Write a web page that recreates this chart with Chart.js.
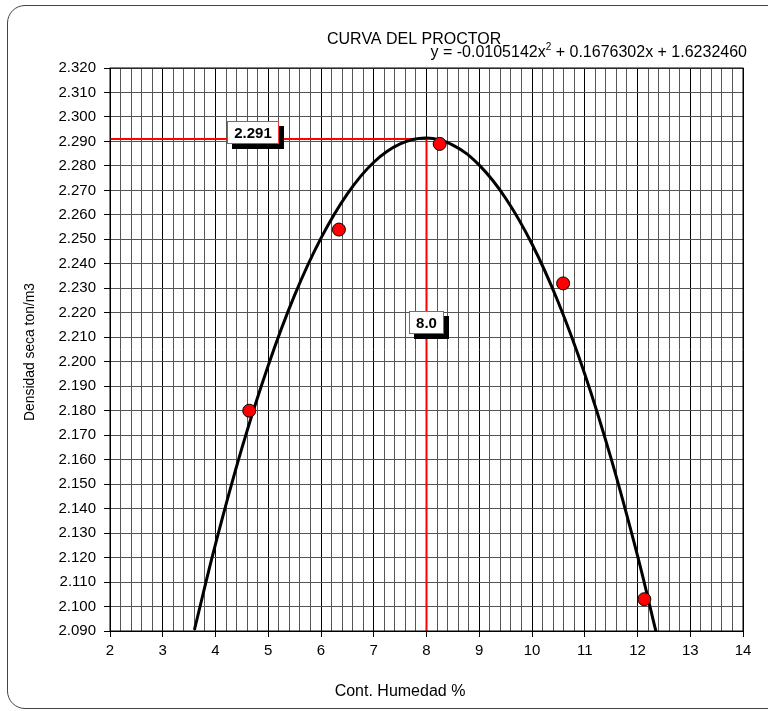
<!DOCTYPE html>
<html>
<head>
<meta charset="utf-8">
<script src="https://cdn.jsdelivr.net/npm/chart.js@4.4.1/dist/chart.umd.min.js"></script>
<style>
  html, body { margin: 0; padding: 0; background: #fff; }
  #wrap { position: relative; width: 768px; height: 711px; overflow: hidden; }
  #frame { position: absolute; left: 7px; top: 5px; width: 820px; height: 704px;
           border: 1px solid #444; border-radius: 18px; box-sizing: border-box; }
  canvas { position: absolute; left: 0; top: 0; }
</style>
</head>
<body>
<div id="wrap">
  <div id="frame"></div>
  <canvas id="proctor" width="768" height="711"></canvas>
</div>
<script>
/* Proctor compaction curve: measured points, fitted parabola and the
   optimum (max dry density / optimum moisture) guide lines. */

const FONT = "'Liberation Sans', Arial, sans-serif";

// measured points (moisture %, dry density ton/m3)
const moisture = [4.64, 6.34, 8.25, 10.59, 12.13];
const density = [2.180, 2.254, 2.289, 2.232, 2.103];

// fitted curve (y = -0.0105142x² + 0.1676302x + 1.6232460)
const curveX = [3.6, 4, 4.5, 5, 5.5, 6, 6.5, 7, 7.5, 8, 8.5, 9, 9.5, 10, 10.5, 11, 11.5, 12, 12.35];
const curveY = [2.0905, 2.1255, 2.1647, 2.1985, 2.2272, 2.2505, 2.2686, 2.2815, 2.2890, 2.2914,
                2.2885, 2.2803, 2.2668, 2.2481, 2.2242, 2.1950, 2.1604, 2.1208, 2.0898];

// optimum
const optMoisture = 8.0;
const maxDensity = 2.291;

const xRange = [2, 14];
const yRange = [2.09, 2.32];

const toPts = (xs, ys) => xs.map((x, i) => ({ x: x, y: ys[i] }));

const isInt = v => Math.abs(v - Math.round(v)) < 1e-6;

const decorations = {
  id: "decorations",
  afterDraw(chart) {
    const { ctx, scales: { x, y } } = chart;
    ctx.save();
    ctx.fillStyle = "#000";

    // title + equation
    ctx.font = "16px " + FONT;
    ctx.textBaseline = "alphabetic";
    ctx.textAlign = "left";
    ctx.fillText("CURVA DEL PROCTOR", 327, 44);

    const eqA = "y = -0.0105142x";
    const eqB = " + 0.1676302x + 1.6232460";
    ctx.font = "16px " + FONT;
    const wA = ctx.measureText(eqA).width;
    const wB = ctx.measureText(eqB).width;
    ctx.font = "10px " + FONT;
    const wS = ctx.measureText("2").width;
    let ex = 747 - (wA + wS + wB);
    ctx.font = "16px " + FONT;
    ctx.fillText(eqA, ex, 57);
    ctx.font = "10px " + FONT;
    ctx.fillText("2", ex + wA, 50);
    ctx.font = "16px " + FONT;
    ctx.fillText(eqB, ex + wA + wS, 57);

    // axis titles
    ctx.textAlign = "center";
    ctx.textBaseline = "middle";
    ctx.fillText("Cont. Humedad %", 400, 692);
    ctx.save();
    ctx.translate(30, 352);
    ctx.rotate(-Math.PI / 2);
    ctx.font = "15px " + FONT;
    const wt = ctx.measureText("Densidad seca ton/m3").width;
    ctx.scale(138 / wt, 1);
    ctx.fillText("Densidad seca ton/m3", 0, 0);
    ctx.restore();

    // value boxes
    const box = (text, cx, cy) => {
      ctx.font = "bold 15px " + FONT;
      const w = Math.round(ctx.measureText(text).width + 14);
      const h = 23;
      const left = Math.round(cx - w / 2), top = Math.round(cy - h / 2);
      ctx.fillStyle = "#000";
      ctx.fillRect(left + 5, top + 5, w, h);
      ctx.fillStyle = "#fff";
      ctx.fillRect(left, top, w, h);
      ctx.strokeStyle = "#f33";
      ctx.lineWidth = 1;
      ctx.strokeRect(left + 0.5, top + 0.5, w - 1, h - 1);
      ctx.fillStyle = "#000";
      ctx.textAlign = "center";
      ctx.textBaseline = "middle";
      ctx.fillText(text, left + w / 2, top + h / 2 + 1);
    };
    box(maxDensity.toFixed(3), x.getPixelForValue(4.71), y.getPixelForValue(2.2937));
    box(optMoisture.toFixed(1), x.getPixelForValue(optMoisture), y.getPixelForValue(2.216));

    ctx.restore();
  }
};

new Chart(document.getElementById("proctor"), {
  type: "scatter",
  data: {
    datasets: [
      {
        label: "optimo",
        data: [{ x: xRange[0], y: maxDensity }, { x: optMoisture, y: maxDensity }, { x: optMoisture, y: yRange[0] }],
        showLine: true, borderColor: "#ff0000", borderWidth: 2, pointRadius: 0, tension: 0, order: 3
      },
      {
        label: "curva",
        data: toPts(curveX, curveY),
        showLine: true, borderColor: "#000", borderWidth: 3, pointRadius: 0, tension: 0.4, order: 2
      },
      {
        label: "ensayos",
        data: toPts(moisture, density),
        backgroundColor: "#ff0000", borderColor: "#000", borderWidth: 1, pointRadius: 6.5, order: 1
      }
    ]
  },
  options: {
    responsive: false,
    animation: false,
    layout: { padding: { top: 68, right: 25, left: 0, bottom: 0 } },
    plugins: { legend: { display: false }, tooltip: { enabled: false } },
    scales: {
      x: {
        type: "linear", min: xRange[0], max: xRange[1],
        afterFit: s => { s.height = 80; },
        ticks: {
          stepSize: 0.2, autoSkip: false, maxRotation: 0, padding: 5,
          color: "#000", font: { family: FONT, size: 15 },
          callback: v => isInt(v) ? String(Math.round(v)) : ""
        },
        grid: {
          color: c => isInt(c.tick.value) ? "#000" : "#555",
          tickColor: c => isInt(c.tick.value) ? "#000" : "rgba(0,0,0,0)",
          tickLength: 6, lineWidth: 1
        },
        border: { color: "#000", width: 1 }
      },
      y: {
        type: "linear", min: yRange[0], max: yRange[1],
        afterFit: s => { s.width = 110; },
        ticks: {
          stepSize: 0.01, autoSkip: false, padding: 8,
          color: "#000", font: { family: FONT, size: 15 },
          callback: v => v.toFixed(3)
        },
        grid: { color: "#555", tickColor: "#000", tickLength: 6, lineWidth: 1 },
        border: { color: "#000", width: 1 }
      }
    }
  },
  plugins: [decorations, {
    id: "plotBorder",
    afterDraw(chart) {
      const { ctx, chartArea: a } = chart;
      ctx.save();
      ctx.strokeStyle = "#000";
      ctx.lineWidth = 1;
      ctx.strokeRect(a.left, a.top, a.right - a.left, a.bottom - a.top);
      ctx.restore();
    }
  }]
});
</script>
</body>
</html>
